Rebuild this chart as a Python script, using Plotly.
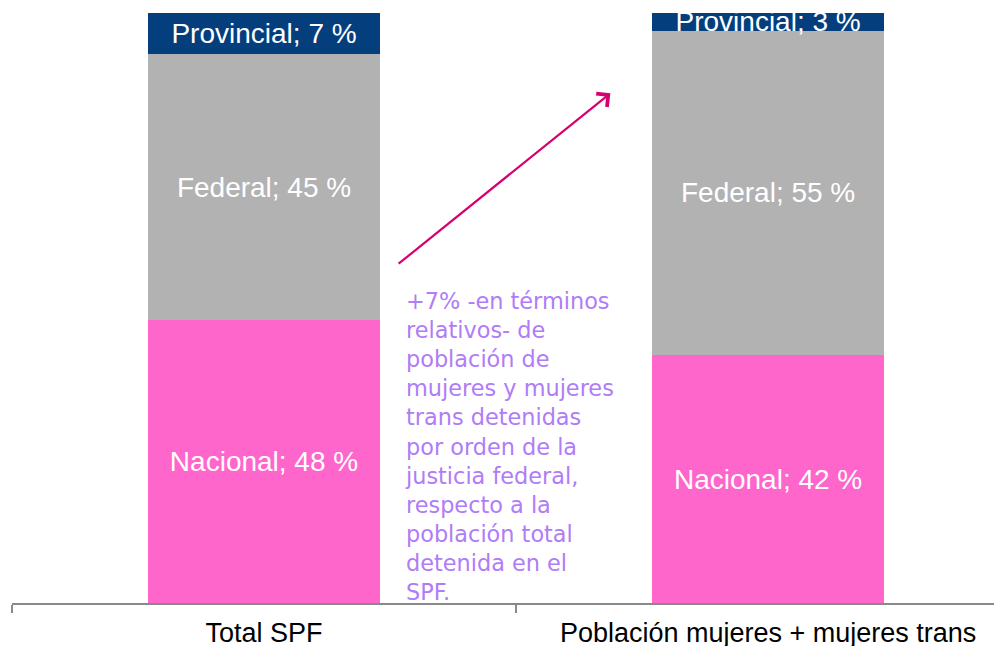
import plotly.graph_objects as go

categories = ["Total SPF", "Población mujeres + mujeres trans"]
series_names = ["Nacional", "Federal", "Provincial"]
nacional = [48, 42]
federal = [45, 55]
provincial = [7, 3]
colors = ["#FF66CC", "#B2B2B2", "#043E7D"]

note_text = ("+7% -en términos<br>relativos- de<br>población de<br>mujeres y mujeres<br>"
             "trans detenidas<br>por orden de la<br>justicia federal,<br>respecto a la<br>"
             "población total<br>detenida en el<br>SPF.")

fig = go.Figure()
for name, vals, col in zip(series_names, [nacional, federal, provincial], colors):
    fig.add_trace(go.Bar(
        x=categories, y=vals, name=name,
        marker=dict(color=col, line=dict(width=0)),
        width=0.46,
        text=[f"{name}; {v} %" for v in vals],
        textposition="inside", insidetextanchor="middle",
        textangle=0, constraintext="none",
        textfont=dict(family="Liberation Sans, Arial", size=28, color="white"),
        cliponaxis=True,
        hoverinfo="skip",
    ))

fig.update_layout(
    barmode="stack",
    width=994, height=638,
    margin=dict(l=4, r=0, t=5, b=43, autoexpand=False),
    paper_bgcolor="white", plot_bgcolor="white",
    showlegend=False,
    xaxis=dict(
        range=[-0.5, 1.464],
        showline=True, linecolor="#898989", linewidth=1.5,
        ticks="outside", tickson="boundaries", ticklen=8, tickcolor="#898989", tickwidth=1.5,
        ticklabelstandoff=5,
        tickfont=dict(family="Liberation Sans, Arial", size=27, color="black"),
        showgrid=False, zeroline=False, automargin=False,
    ),
    yaxis=dict(range=[0, 100], visible=False, showgrid=False, zeroline=False),
)

# Arrow
fig.add_annotation(
    x=0.687, y=86.4, ax=0.264, ay=57.3,
    xref="x", yref="y", axref="x", ayref="y",
    text="", showarrow=True,
    arrowhead=4, arrowsize=1.5, arrowwidth=2.2, arrowcolor="#D6006E",
)

# Note text
fig.add_annotation(
    x=0.275, y=53.7, xref="x", yref="y",
    xanchor="left", yanchor="top", align="left",
    text=note_text, showarrow=False,
    font=dict(family="DejaVu Sans", size=22.4, color="#B07CF7"),
)

fig.write_html("out.html")
